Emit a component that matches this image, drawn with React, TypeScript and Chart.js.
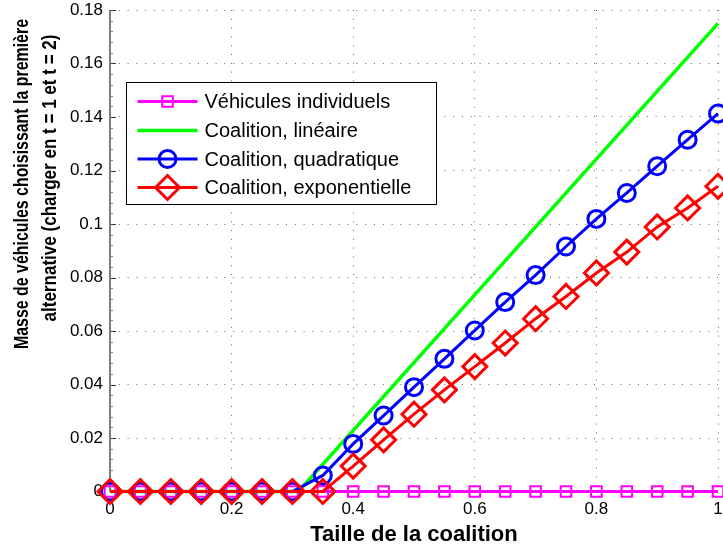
import React, { useEffect, useRef } from "react";
import { Chart, registerables } from "chart.js";
import { drawPoint } from "chart.js/helpers";

Chart.register(...registerables);

// ---------- data ----------
const tailles = [0, 0.05, 0.1, 0.15, 0.2, 0.25, 0.3, 0.35, 0.4, 0.45, 0.5, 0.55, 0.6, 0.65, 0.7, 0.75, 0.8, 0.85, 0.9, 0.95, 1];
const individuels = [0, 0, 0, 0, 0, 0, 0, 0, 0, 0, 0, 0, 0, 0, 0, 0, 0, 0, 0, 0, 0];
const lineaireX = [0, 0.31, 1];
const lineaireY = [0, 0, 0.175];
const quadratique = [0, 0, 0, 0, 0, 0, 0, 0.006, 0.0178, 0.0284, 0.039, 0.0496, 0.0602, 0.0708, 0.0809, 0.0916, 0.1019, 0.1116, 0.1216, 0.1315, 0.1413];
const exponentielle = [0, 0, 0, 0, 0, 0, 0, 0, 0.0095, 0.0193, 0.0289, 0.038, 0.0467, 0.0555, 0.0646, 0.0729, 0.0817, 0.0895, 0.0989, 0.106, 0.1141];

const xTickLabels = ["0", "0.2", "0.4", "0.6", "0.8", "1"];
const yTickLabels = ["0", "0.02", "0.04", "0.06", "0.08", "0.1", "0.12", "0.14", "0.16", "0.18"];
const seriesNames = ["Véhicules individuels", "Coalition, linéaire", "Coalition, quadratique", "Coalition, exponentielle"];
const xTitle = "Taille de la coalition";
const yTitleLines = ["Masse de véhicules choisissant la première", "alternative (charger en t = 1 et t = 2)"];

const FONT = '"Liberation Sans", Arial, Helvetica, sans-serif';

const toPoints = (xs: number[], ys: number[]) => xs.map((x, i) => ({ x, y: ys[i] }));

const matlabPlugin = {
  id: "matlabDecor",
  beforeDatasetsDraw(chart: any) {
    const { ctx, chartArea, scales } = chart;
    const ys = scales.y;
    ctx.save();
    ctx.fillStyle = "#7d7d7d";
    ctx.fillRect(chartArea.left - 1, chartArea.top, 2, chartArea.bottom - chartArea.top);
    ctx.lineWidth = 1;
    for (let i = 0; i <= 45; i++) {
      const v = i * 0.004;
      const py = Math.round(ys.getPixelForValue(v)) + 0.5;
      const major = i % 5 === 0;
      ctx.strokeStyle = major ? "#333333" : "#8a8a8a";
      ctx.beginPath();
      ctx.moveTo(chartArea.left + 1, py);
      ctx.lineTo(chartArea.left + (major ? 6 : 3), py);
      ctx.stroke();
    }
    ctx.restore();
  },
  afterDraw(chart: any) {
    const { ctx, chartArea } = chart;
    ctx.save();
    ctx.fillStyle = "#000";
    ctx.font = `bold 22px ${FONT}`;
    ctx.textAlign = "center";
    ctx.textBaseline = "alphabetic";
    ctx.fillText(xTitle, (chartArea.left + chartArea.right) / 2, 541);

    ctx.font = `bold 21px ${FONT}`;
    const yLines = [
      { text: yTitleLines[0], bx: 28, cy: 184, w: 330 },
      { text: yTitleLines[1], bx: 56, cy: 178, w: 287 },
    ];
    for (const l of yLines) {
      ctx.save();
      ctx.translate(l.bx, l.cy);
      ctx.rotate(-Math.PI / 2);
      ctx.fillText(l.text, 0, 0, l.w);
      ctx.restore();
    }

    // legend box
    const bx = chartArea.left + 16.5;
    const by = 82.5;
    const bw = 310;
    const bh = 122;
    ctx.fillStyle = "#ffffff";
    ctx.fillRect(bx, by, bw, bh);
    ctx.strokeStyle = "#000";
    ctx.lineWidth = 1;
    ctx.strokeRect(bx, by, bw, bh);

    const rows = [101.5, 130.5, 159, 187.5];
    [0, 1, 2, 3].forEach((dsIndex, r) => {
      const ds = chart.data.datasets[dsIndex];
      const yy = rows[r];
      const x0 = bx + 11;
      const x1 = bx + 71;
      ctx.strokeStyle = ds.borderColor;
      ctx.lineWidth = ds.borderWidth;
      ctx.beginPath();
      ctx.moveTo(x0, yy);
      ctx.lineTo(x1, yy);
      ctx.stroke();
      if (ds.pointRadius > 0) {
        ctx.fillStyle = "rgba(0,0,0,0)";
        ctx.strokeStyle = ds.pointBorderColor;
        ctx.lineWidth = ds.pointBorderWidth;
        drawPoint(ctx, { pointStyle: ds.pointStyle, radius: ds.pointRadius, rotation: 0, borderWidth: ds.pointBorderWidth } as any, (x0 + x1) / 2, yy);
      }
      ctx.fillStyle = "#000";
      ctx.font = `20px ${FONT}`;
      ctx.textAlign = "left";
      ctx.textBaseline = "middle";
      ctx.fillText(seriesNames[dsIndex], bx + 78, yy + 1);
    });
    ctx.restore();
  },
};

export default function App() {
  const canvasRef = useRef<HTMLCanvasElement | null>(null);

  useEffect(() => {
    document.body.style.margin = "0";
    const canvas = canvasRef.current;
    if (!canvas) return;
    const chart = new Chart(canvas, {
      type: "line",
      data: {
        datasets: [
          {
            label: seriesNames[0],
            data: toPoints(tailles, individuels),
            borderColor: "#ff00ff",
            borderWidth: 3,
            pointStyle: "rect",
            pointRadius: 7.5,
            pointBorderWidth: 2,
            pointBorderColor: "#ff00ff",
            pointBackgroundColor: "rgba(0,0,0,0)",
            order: 4,
            clip: false,
            tension: 0,
          },
          {
            label: seriesNames[1],
            data: toPoints(lineaireX, lineaireY),
            borderColor: "#00ff00",
            borderWidth: 3.5,
            pointRadius: 0,
            pointBorderWidth: 0,
            pointBorderColor: "#00ff00",
            order: 3,
            clip: false,
            tension: 0,
          },
          {
            label: seriesNames[2],
            data: toPoints(tailles, quadratique),
            borderColor: "#0000ff",
            borderWidth: 3,
            pointStyle: "circle",
            pointRadius: 8.5,
            pointBorderWidth: 3,
            pointBorderColor: "#0000ff",
            pointBackgroundColor: "rgba(0,0,0,0)",
            order: 2,
            clip: false,
            tension: 0,
          },
          {
            label: seriesNames[3],
            data: toPoints(tailles, exponentielle),
            borderColor: "#ff0000",
            borderWidth: 3,
            pointStyle: "rectRot",
            pointRadius: 12,
            pointBorderWidth: 3,
            pointBorderColor: "#ff0000",
            pointBackgroundColor: "rgba(0,0,0,0)",
            order: 1,
            clip: false,
            tension: 0,
          },
        ] as any,
      },
      options: {
        animation: false,
        responsive: false,
        devicePixelRatio: 1,
        layout: { autoPadding: false, padding: { top: 10, right: 5, left: 0, bottom: 0 } },
        plugins: { legend: { display: false }, tooltip: { enabled: false } },
        events: [],
        scales: {
          x: {
            type: "linear",
            min: 0,
            max: 1,
            afterFit: (s: any) => {
              s.height = 57.5;
              s.paddingLeft = 0;
              s.paddingRight = 0;
            },
            afterBuildTicks: (s: any) => {
              s.ticks = xTickLabels.map((_, i) => ({ value: i * 0.2 }));
            },
            ticks: {
              padding: 8,
              maxRotation: 0,
              autoSkip: false,
              color: "#000",
              font: { family: FONT, size: 17 },
              callback: (_v: any, i: number) => xTickLabels[i],
            },
            grid: { color: "rgba(0,0,0,0.6)", lineWidth: 1, drawTicks: false, tickLength: 0 },
            border: { display: false, dash: [1, 7.8] },
          },
          y: {
            type: "linear",
            min: 0,
            max: 0.18,
            afterFit: (s: any) => {
              s.width = 110;
              s.paddingTop = 0;
              s.paddingBottom = 0;
            },
            afterBuildTicks: (s: any) => {
              s.ticks = yTickLabels.map((_, i) => ({ value: i * 0.02 }));
            },
            ticks: {
              padding: 7,
              autoSkip: false,
              color: "#000",
              font: { family: FONT, size: 17 },
              callback: (_v: any, i: number) => yTickLabels[i],
            },
            grid: { color: "rgba(0,0,0,0.6)", lineWidth: 1, drawTicks: false, tickLength: 0 },
            border: { display: false, dash: [1, 7.8] },
          },
        },
      } as any,
      plugins: [matlabPlugin],
    });
    return () => chart.destroy();
  }, []);

  return (
    <div style={{ position: "absolute", left: 0, top: 0, width: 723, height: 549, background: "#fff" }}>
      <canvas ref={canvasRef} width={723} height={549} style={{ display: "block" }} />
    </div>
  );
}
